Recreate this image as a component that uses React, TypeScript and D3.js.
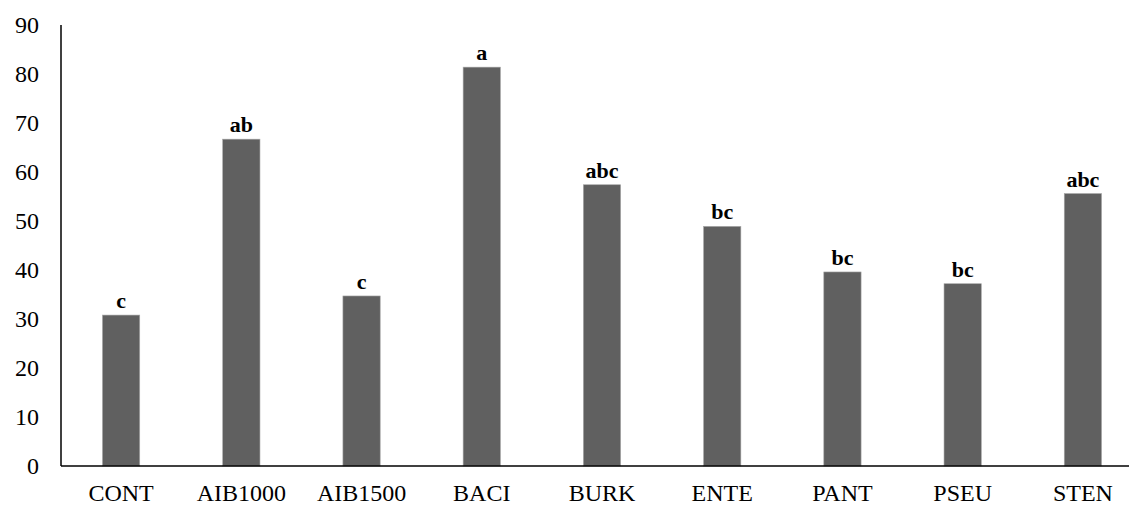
import React from 'react'
import * as d3 from 'd3'

const categories = ['CONT', 'AIB1000', 'AIB1500', 'BACI', 'BURK', 'ENTE', 'PANT', 'PSEU', 'STEN']
const values = [30.8, 66.7, 34.7, 81.4, 57.4, 48.9, 39.6, 37.2, 55.6]
const letters = ['c', 'ab', 'c', 'a', 'abc', 'bc', 'bc', 'bc', 'abc']
const yTicks = [0, 10, 20, 30, 40, 50, 60, 70, 80, 90]

function App() {
  const width = 1129
  const height = 508
  const left = 61
  const bottom = 466
  const top = 25

  const x = d3.scaleBand().domain(categories).range([left, 1143]).paddingInner(0.69).paddingOuter(0.345)
  const y = d3.scaleLinear().domain([0, 90]).range([bottom, top])

  const font = 'Liberation Serif, Times New Roman, serif'

  return (
    <svg width={width} height={height} style={{position: 'absolute', left: 0, top: 0}}>
      <rect x={0} y={0} width={width} height={height} fill="#fff" />
      {categories.map((c, i) => (
        <rect key={c} x={x(c)} y={y(values[i])} width={x.bandwidth()} height={bottom - y(values[i])}
          fill="#606060" stroke="#a6a6a6" strokeWidth={0.6} />
      ))}
      {categories.map((c, i) => (
        <text key={c + 'l'} x={x(c)! + x.bandwidth() / 2} y={y(values[i]) - 7} textAnchor="middle"
          style={{fontFamily: font, fontWeight: 'bold', fontSize: 22}}>{letters[i]}</text>
      ))}
      <line x1={left} x2={width} y1={bottom} y2={bottom} stroke="#000" strokeWidth={1.5} />
      <line x1={left} x2={left} y1={top} y2={bottom} stroke="#000" strokeWidth={1.5} />
      {yTicks.map(t => (
        <text key={t} x={39} y={y(t) + 8} textAnchor="end" style={{fontFamily: font, fontSize: 24}}>{t}</text>
      ))}
      {categories.map(c => (
        <text key={c + 'x'} x={x(c)! + x.bandwidth() / 2} y={501} textAnchor="middle"
          style={{fontFamily: font, fontSize: 24}}>{c}</text>
      ))}
    </svg>
  )
}

export default App
